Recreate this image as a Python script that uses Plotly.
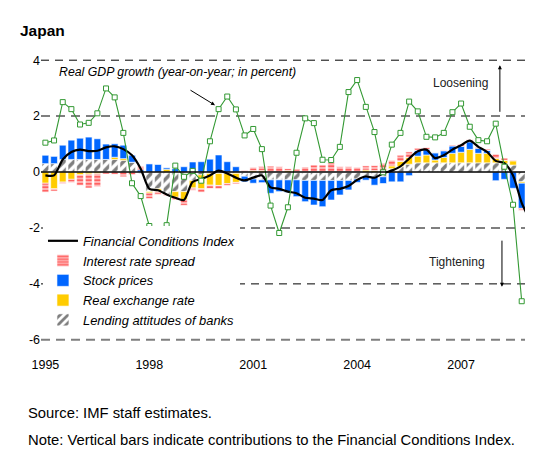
import plotly.graph_objects as go

# ---------------- data (quarterly, 1995Q1 .. 2009Q1) ----------------
quarters = [f"{y}Q{q}" for y in range(1995, 2010) for q in range(1, 5)][:57]

lending = [0.30, 0.30, 0.45, 0.45, 0.45, 0.45, 0.45, 0.45, 0.45, 0.42,
           0.35, -0.05, -0.70, -0.60, -0.80, -0.70, -0.70, -0.30, -0.10, -0.05,
           -0.05, -0.05, -0.05, -0.15, -0.25, -0.28, -0.28, -0.28, -0.28, -0.28,
           -0.30, -0.30, -0.30, -0.30, -0.30, -0.30, -0.25, -0.17, -0.17, -0.17,
           0.12, 0.20, 0.28, 0.33, 0.33, 0.33, 0.33, 0.33, 0.33, 0.33,
           0.33, 0.33, 0.33, 0.30, 0.25, -0.35, -0.55]

real_exchange = [-0.40, -0.60, -0.36, -0.26, -0.10, -0.07, -0.06, 0.00, 0.08, 0.06,
                 0.00, 0.00, -0.05, -0.10, 0.10, -0.20, -0.30, -0.27, -0.50, -0.42,
                 -0.43, -0.36, -0.32, 0.00, 0.05, 0.05, 0.00, 0.00, 0.05, 0.00,
                 0.00, 0.00, 0.00, 0.00, 0.00, 0.00, 0.00, 0.07, 0.05, 0.05,
                 0.10, 0.18, 0.24, 0.24, 0.28, 0.10, 0.19, 0.34, 0.38, 0.48,
                 0.34, 0.34, 0.16, 0.12, 0.15, -0.05, -0.10]

stock_prices = [0.30, 0.26, 0.51, 0.69, 0.76, 0.80, 0.74, 0.55, 0.48, 0.48,
                0.25, 0.08, 0.29, 0.27, 0.05, 0.12, 0.19, 0.36, 0.37, 0.46,
                0.61, 0.37, 0.19, -0.20, -0.15, -0.10, -0.48, -0.42, -0.45, -0.60,
                -0.76, -0.88, -0.94, -0.70, -0.52, -0.34, -0.12, -0.12, -0.30, -0.24,
                -0.35, -0.35, -0.13, 0.20, 0.20, 0.26, 0.24, 0.26, 0.21, 0.27,
                0.18, 0.10, -0.31, -0.26, -0.58, -0.90, -1.00]

interest_spread = [-0.32, -0.08, -0.05, -0.12, -0.38, -0.50, -0.46, -0.07, -0.08, -0.17,
                   -0.10, 0.12, -0.20, -0.10, -0.05, -0.10, -0.19, -0.08, -0.12, -0.12,
                   -0.12, -0.08, -0.05, 0.05, 0.12, 0.15, 0.21, 0.19, 0.07, 0.10,
                   0.18, 0.25, 0.25, 0.33, 0.19, 0.19, 0.17, 0.15, 0.18, 0.26,
                   0.20, 0.22, 0.20, 0.08, 0.07, 0.00, 0.03, 0.03, 0.07, 0.08,
                   0.05, 0.05, 0.15, 0.08, 0.03, -0.08, -0.12]

fci = [-0.12, -0.12, 0.45, 0.72, 0.80, 0.75, 0.76, 0.88, 0.92, 0.82,
       0.60, 0.12, -0.60, -0.65, -0.80, -0.92, -1.00, -0.35, -0.25, -0.12,
       0.05, -0.05, -0.20, -0.30, -0.20, -0.12, -0.55, -0.60, -0.70, -0.76,
       -0.92, -0.95, -1.00, -0.65, -0.60, -0.50, -0.28, -0.16, -0.20, -0.05,
       0.05, 0.20, 0.48, 0.74, 0.80, 0.50, 0.60, 0.80, 0.96, 1.12,
       0.90, 0.72, 0.40, 0.32, -0.12, -1.10, -1.75]

gdp_growth = [1.05, 1.13, 2.50, 2.25, 1.70, 1.76, 2.10, 2.99, 2.67, 1.40,
              -0.40, -0.86, -1.93, -2.10, -1.90, 0.23, -0.17, 0.04, -0.31, 1.10,
              2.25, 2.70, 2.24, 1.31, 1.54, 0.82, -1.20, -2.18, -1.26, 0.69,
              1.92, 1.75, 0.44, 0.43, 0.90, 2.86, 3.29, 2.33, 1.43, -0.01,
              0.98, 1.40, 2.52, 2.17, 1.26, 1.24, 1.40, 2.14, 2.45, 1.62,
              1.14, 1.10, 1.73, 0.19, -1.17, -4.62]

x_tick_vals = [1995, 1998, 2001, 2004, 2007]
x_tick_text = ["1995", "1998", "2001", "2004", "2007"]
y_tick_vals = [-6, -4, -2, 0, 2, 4]
y_tick_text = ["-6", "-4", "-2", "0", "2", "4"]
grid_gray = [2, -2, -6]
grid_black = [4, -4]

# quarter label -> numeric position (year + fraction)
xq = [int(q[:4]) + (int(q[-1]) - 1) / 4 for q in quarters]

FONT = "Liberation Sans, Arial, sans-serif"
BLUE = "#0066ff"
YELLOW = "#ffcc00"
GREEN = "#339933"

fig = go.Figure()

bar_line = dict(color="white", width=0.6)
fig.add_trace(go.Bar(
    x=xq, y=lending, name="Lending attitudes of banks", legendrank=5,
    marker=dict(color="white", line=bar_line,
                pattern=dict(shape="/", fgcolor="black", bgcolor="white", size=7, solidity=0.5)),
))
fig.add_trace(go.Bar(
    x=xq, y=real_exchange, name="Real exchange rate", legendrank=4,
    marker=dict(color=YELLOW, line=bar_line),
))
fig.add_trace(go.Bar(
    x=xq, y=stock_prices, name="Stock prices", legendrank=3,
    marker=dict(color=BLUE, line=bar_line),
))
fig.add_trace(go.Bar(
    x=xq, y=interest_spread, name="Interest rate spread", legendrank=2,
    marker=dict(color="#ff8080", line=bar_line,
                pattern=dict(shape="-", fgcolor="#ff0000", bgcolor="#ffc4c4", size=3.5, solidity=0.55)),
))
fig.add_trace(go.Scatter(
    x=xq, y=fci, name="Financial Conditions Index", legendrank=1, mode="lines",
    line=dict(color="black", width=2.2, shape="spline", smoothing=0.7),
))
fig.add_trace(go.Scatter(
    x=xq[:len(gdp_growth)], y=gdp_growth, name="Real GDP growth", showlegend=False,
    mode="lines+markers",
    line=dict(color=GREEN, width=1.1),
    marker=dict(symbol="square", size=5, color="white", line=dict(color=GREEN, width=1)),
))

# reference lines
for lv in grid_gray:
    fig.add_hline(y=lv, line=dict(color="#7f7f7f", width=2, dash="9px,6px"), layer="below")
for lv in grid_black:
    fig.add_hline(y=lv, line=dict(color="black", width=1, dash="8px,6px"), layer="below")
fig.add_hline(y=0, line=dict(color="black", width=1.5), layer="above")

annotations = [
    dict(text="Japan", xref="paper", yref="paper", x=-0.047, y=1.09, xanchor="left", yanchor="middle",
         showarrow=False, font=dict(family=FONT, size=15.5, color="black", weight="bold")),
    dict(text="Real GDP growth (year-on-year; in percent)", x=1995.335, y=3.57, xanchor="left",
         yanchor="middle", showarrow=False, font=dict(family=FONT, size=12.3, style="italic", color="black")),
    dict(text="", x=1999.896, y=2.39, ax=1999.145, ay=2.96, axref="x", ayref="y",
         showarrow=True, arrowhead=2, arrowsize=0.8, arrowwidth=1, arrowcolor="black"),
    dict(text="Loosening", x=2006.97, y=3.18, showarrow=False,
         font=dict(family=FONT, size=12, color="#222222")),
    dict(text="", x=2008.12, y=3.82, ax=2008.12, ay=2.1, axref="x", ayref="y",
         showarrow=True, arrowhead=2, arrowsize=0.8, arrowwidth=1, arrowcolor="black"),
    dict(text="Tightening", x=2006.88, y=-3.21, showarrow=False,
         font=dict(family=FONT, size=12, color="#222222")),
    dict(text="", x=2008.18, y=-4.1, ax=2008.18, ay=-2.4, axref="x", ayref="y",
         showarrow=True, arrowhead=2, arrowsize=0.8, arrowwidth=1, arrowcolor="black"),
    dict(text="Source: IMF staff estimates.", xref="paper", yref="paper", x=-0.031, y=-0.2396,
         xanchor="left", yanchor="middle", showarrow=False,
         font=dict(family=FONT, size=14.8, color="black")),
    dict(text="Note: Vertical bars indicate contributions to the Financial Conditions Index.",
         xref="paper", yref="paper", x=-0.031, y=-0.3333,
         xanchor="left", yanchor="middle", showarrow=False,
         font=dict(family=FONT, size=14.8, color="black")),
]

# the page body has an 8px margin, so the figure is 8px smaller than the window
fig.update_layout(
    width=525, height=442,
    margin=dict(l=33, r=0, t=48, b=106),
    paper_bgcolor="white", plot_bgcolor="white",
    barmode="relative", bargap=0.22,
    showlegend=True,
    legend=dict(x=0.004, y=0.41, xanchor="left", yanchor="top", bgcolor="white",
                font=dict(family=FONT, size=12.9, style="italic", color="black"),
                itemwidth=30, tracegroupgap=0),
    annotations=annotations,
    font=dict(family=FONT, size=12.5, color="black"),
)
fig.update_xaxes(range=[1994.873, 2009.076], showgrid=False, zeroline=False, showline=False,
                 ticks="", tickvals=x_tick_vals, ticktext=x_tick_text, ticklabelstandoff=11,
                 tickfont=dict(family=FONT, size=12.5))
fig.update_yaxes(range=[-6.15, 4.15], showgrid=False, zeroline=False, showline=False,
                 ticks="", tickvals=y_tick_vals, ticktext=y_tick_text,
                 tickfont=dict(family=FONT, size=12.5))

fig.write_html("out.html")
